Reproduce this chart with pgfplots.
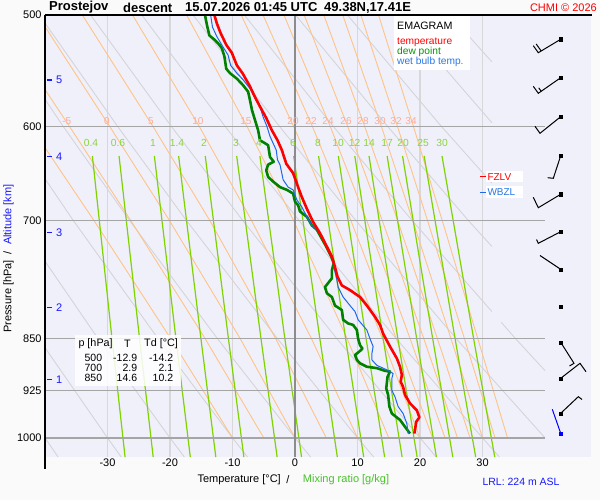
\documentclass[border=0pt]{standalone}
\usepackage{pgfplots}
\pgfplotsset{compat=1.18}
\usepackage{fontspec}
\setmainfont{Liberation Sans}
\newcommand{\fs}[1]{\fontsize{#1}{#1}\selectfont}
\definecolor{bgplot}{RGB}{240,240,251}
\definecolor{page}{RGB}{250,250,250}
\definecolor{tcol}{RGB}{255,0,0}
\definecolor{tdcol}{RGB}{0,130,0}
\definecolor{twcol}{RGB}{30,105,235}
\definecolor{moist}{RGB}{255,195,135}
\definecolor{moistlab}{RGB}{255,170,150}
\definecolor{mixr}{RGB}{128,210,0}
\definecolor{mixlab}{RGB}{140,212,60}
\definecolor{dry}{RGB}{212,212,216}
\definecolor{isob}{RGB}{165,165,165}
\definecolor{isot}{RGB}{216,216,218}
\definecolor{zerot}{RGB}{140,140,140}
\definecolor{altblue}{RGB}{25,25,255}
\definecolor{legblue}{RGB}{40,120,230}
\definecolor{leggreen}{RGB}{0,150,0}
\definecolor{axgreen}{RGB}{70,195,40}
\begin{document}
\begin{tikzpicture}[x=1pt,y=1pt,t/.style={inner sep=0pt}]
\fill[page] (-45,-43) rectangle (555,457);
\useasboundingbox (-45,-43) rectangle (555,457);
\begin{axis}[
  at={(0,0)}, anchor=south west,
  scale only axis, width=546pt, height=442pt,
  xmin=-40, xmax=47.36, ymin=500, ymax=1032,
  ymode=log, y dir=reverse,
  axis background/.style={fill=bgplot},
  axis line style={draw=none},
  major tick length=0pt, minor tick num=0,
  xtick={-30,-20,-10,0,10,20,30},
  xticklabels={{-30},{-20},{-10},{0},{10},{20},{30}},
  ytick={500,600,700,850,925,1000},
  yticklabels={500,600,700,850,925,1000},
  xticklabel style={font=\fs{11}, anchor=north, inner sep=0pt, yshift=-1.8pt},
  yticklabel style={font=\fs{11}, anchor=east, inner sep=0pt, xshift=-3.3pt},
  every axis plot/.append style={line join=round},
]
% isotherms
\addplot[isot, line width=1.2] coordinates {(-30,500)(-30,1032)};
\addplot[isot, line width=1.2] coordinates {(-20,500)(-20,1032)};
\addplot[isot, line width=1.2] coordinates {(-10,500)(-10,1032)};
\addplot[isot, line width=1.2] coordinates {(10,500)(10,1032)};
\addplot[isot, line width=1.2] coordinates {(20,500)(20,1032)};
\addplot[isot, line width=1.2] coordinates {(30,500)(30,1032)};
% dry adiabats
\addplot[dry, line width=0.9] coordinates {(-50.6,850)(-40,1000)(-37.9,1032)};
\addplot[dry, line width=0.9] coordinates {(-53.6,700)(-41.0,850)(-30,1000)(-27.8,1032)};
\addplot[dry, line width=0.9] coordinates {(-54.4,600)(-44.5,700)(-31.5,850)(-20,1000)(-17.7,1032)};
\addplot[dry, line width=0.9] coordinates {(-57.3,500)(-45.7,600)(-35.5,700)(-21.9,850)(-10,1000)(-7.6,1032)};
\addplot[dry, line width=0.9] coordinates {(-49.1,500)(-37.1,600)(-26.5,700)(-12.4,850)(0,1000)(2.5,1032)};
\addplot[dry, line width=0.9] coordinates {(-40.9,500)(-28.4,600)(-17.4,700)(-2.8,850)(10,1000)(12.6,1032)};
\addplot[dry, line width=0.9] coordinates {(-32.7,500)(-19.8,600)(-8.4,700)(6.7,850)(20,1000)(22.6,1032)};
\addplot[dry, line width=0.9] coordinates {(-24.5,500)(-11.2,600)(0.6,700)(16.2,850)(30,1000)(32.7,1032)};
\addplot[dry, line width=0.9] coordinates {(-16.3,500)(-2.5,600)(9.7,700)(25.8,850)(40,1000)};
\addplot[dry, line width=0.9] coordinates {(-8.1,500)(6.1,600)(18.7,700)(31.5,813)};
\addplot[dry, line width=0.9] coordinates {(33,827.4)(35.3,850)(40,895.7)};
\addplot[dry, line width=0.9] coordinates {(0.1,500)(14.8,600)(27.7,700)(31.5,730.7)};
\addplot[dry, line width=0.9] coordinates {(8.4,500)(23.4,600)(31.5,658.6)};
\addplot[dry, line width=0.9] coordinates {(16.6,500)(31.5,596.5)};
\addplot[dry, line width=0.9] coordinates {(24.8,500)(31.5,539.9)};
% moist adiabats
\addplot[moist, line width=0.9] coordinates {(-10,1000)(-19.87,850)(-32.2,700)(-42.3,600)};
\addplot[moist, line width=0.9] coordinates {(-5,1000)(-14.37,850)(-26.3,700)(-36.1,600)(-47.9,500)};
\addplot[moist, line width=0.9] coordinates {(0,1000)(-8.76,850)(-20.11,700)(-29.67,600)(-41.2,500)};
\addplot[moist, line width=0.9] coordinates {(5,1000)(-3.08,850)(-13.66,700)(-22.74,600)(-34.02,500)};
\addplot[moist, line width=0.9] coordinates {(10,1000)(2.64,850)(-6.97,700)(-15.33,600)(-25.99,500)};
\addplot[moist, line width=0.9] coordinates {(15,1000)(8.34,850)(-0.25,700)(-7.69,600)(-17.34,500)};
\addplot[moist, line width=0.9] coordinates {(20,1000)(13.99,850)(6.33,700)(-0.23,600)(-8.6,500)};
\addplot[moist, line width=0.9] coordinates {(22,1000)(16.21,850)(8.93,700)(2.77,600)(-5.11,500)};
\addplot[moist, line width=0.9] coordinates {(24,1000)(18.42,850)(11.46,700)(5.63,600)(-1.76,500)};
\addplot[moist, line width=0.9] coordinates {(26,1000)(20.61,850)(13.95,700)(8.42,600)(1.48,500)};
\addplot[moist, line width=0.9] coordinates {(28,1000)(22.79,850)(16.4,700)(11.14,600)(4.61,500)};
\addplot[moist, line width=0.9] coordinates {(30,1000)(24.96,850)(18.82,700)(13.81,600)(7.64,500)};
\addplot[moist, line width=0.9] coordinates {(32,1000)(27.11,850)(21.19,700)(16.39,600)(10.54,500)};
\addplot[moist, line width=0.9] coordinates {(34,1000)(29.25,850)(23.54,700)(18.94,600)(13.37,500)};
% mixing ratio lines
\addplot[mixr, line width=1.2] coordinates {(-32.42,630)(-29.28,850)(-27.19,1032)};
\addplot[mixr, line width=1.2] coordinates {(-28.15,630)(-24.87,850)(-22.69,1032)};
\addplot[mixr, line width=1.2] coordinates {(-22.5,630)(-19.05,850)(-16.75,1032)};
\addplot[mixr, line width=1.2] coordinates {(-18.62,630)(-15.05,850)(-12.67,1032)};
\addplot[mixr, line width=1.2] coordinates {(-14.36,630)(-10.65,850)(-8.18,1032)};
\addplot[mixr, line width=1.2] coordinates {(-9.33,630)(-5.44,850)(-2.86,1032)};
\addplot[mixr, line width=1.2] coordinates {(-5.62,630)(-1.62,850)(1.05,1032)};
\addplot[mixr, line width=1.2] coordinates {(-0.21,630)(3.98,850)(6.77,1032)};
\addplot[mixr, line width=1.2] coordinates {(3.77,630)(8.10,850)(10.99,1032)};
\addplot[mixr, line width=1.2] coordinates {(6.93,630)(11.38,850)(14.34,1032)};
\addplot[mixr, line width=1.2] coordinates {(9.57,630)(14.11,850)(17.14,1032)};
\addplot[mixr, line width=1.2] coordinates {(11.84,630)(16.46,850)(19.54,1032)};
\addplot[mixr, line width=1.2] coordinates {(14.74,630)(19.47,850)(22.63,1032)};
\addplot[mixr, line width=1.2] coordinates {(17.21,630)(22.03,850)(25.25,1032)};
\addplot[mixr, line width=1.2] coordinates {(20.66,630)(25.61,850)(28.91,1032)};
\addplot[mixr, line width=1.2] coordinates {(23.52,630)(28.58,850)(31.96,1032)};
% isobars
\addplot[isob, line width=1.3] coordinates {(-40,600)(40,600)};
\addplot[isob, line width=1.3] coordinates {(-40,700)(40,700)};
\addplot[isob, line width=1.3] coordinates {(-40,850)(40,850)};
\addplot[isob, line width=1.3] coordinates {(-40,925)(40,925)};
\addplot[isob, line width=1.3] coordinates {(-40,1000)(40,1000)};
\addplot[zerot, line width=1.3] coordinates {(0,500)(0,1032)};
% dew point
\addplot[tdcol, line width=2.6] coordinates {(-14.4,500)(-14.1,508)(-13.7,517)(-12.8,521)(-12.1,525)(-11.7,528)(-11.3,535)(-11.0,546)(-10.4,550)(-9.3,555)(-8.3,561)(-7.5,567)(-7.2,575)(-6.9,584)(-6.4,594)(-5.9,604)(-5.6,614)(-4.8,617)(-4.3,619)(-4.1,627)(-4.0,631)(-3.4,636)(-4.3,639)(-4.6,645)(-4.3,652)(-3.5,657)(-2.4,663)(-1.3,666)(-0.3,670)(0.0,679)(0.5,683)(0.8,690)(1.9,696)(2.7,706)(3.5,711)(3.8,715)(5.0,731)(5.8,743)(6.2,751)(5.9,760)(5.9,770)(4.8,781)(5.1,789)(5.9,794)(6.4,805)(7.5,811)(7.7,824)(8.5,829)(9.3,831)(9.9,838)(10.1,850)(10.4,859)(10.8,864)(10.3,868)(9.6,873)(9.9,880)(10.4,885)(11.5,890)(13.1,892)(14.4,896)(15.2,897)(14.8,905)(14.6,922)(14.9,932)(15.1,950)(15.5,961)(16.8,971)(17.6,982)(18.4,993)};
% wet bulb
\addplot[twcol, line width=1] coordinates {(-13.5,500)(-13.2,510)(-12.5,518)(-11.5,527)(-10.7,534)(-10.3,543)(-9.3,550)(-8.3,556)(-7.2,564)(-6.4,573)(-5.6,581)(-5.1,591)(-4.5,600)(-4.0,610)(-3.5,617)(-3.0,624)(-2.8,634)(-2.4,639)(-1.9,655)(-1.1,663)(-0.3,666)(0.3,677)(1.1,685)(1.9,696)(2.7,706)(3.5,711)(4.0,715)(5.1,731)(5.9,743)(6.2,756)(6.4,762)(6.7,772)(6.9,781)(7.7,794)(8.8,805)(9.6,813)(10.1,824)(11.5,838)(12.0,850)(12.5,861)(12.3,871)(12.3,880)(13.1,888)(14.1,892)(15.2,897)(15.7,900)(15.5,907)(15.5,925)(16.0,935)(16.5,950)(17.3,961)(17.9,977)(18.1,993)};
% temperature
\addplot[tcol, line width=2.6] coordinates {(-12.9,500)(-12.5,507)(-11.9,515)(-11.0,525)(-10.1,532)(-9.3,543)(-8.4,550)(-7.3,561)(-6.4,572)(-5.6,581)(-4.6,592)(-3.7,604)(-2.8,614)(-2.1,624)(-1.4,638)(-0.3,648)(0.5,663)(1.1,674)(1.9,687)(2.9,702)(4.0,715)(5.1,731)(5.9,743)(6.4,756)(6.8,768)(7.5,779)(8.8,785)(10.4,794)(11.5,805)(12.8,820)(13.6,831)(14.1,843)(15.2,861)(16.3,878)(16.8,890)(17.1,902)(16.9,912)(17.3,920)(17.6,932)(18.4,945)(19.5,956)(19.9,967)(19.4,974)(19.1,993)};
\end{axis}
% ---------- overlay in pixel coordinates ----------
\begin{axis}[
  at={(-45,43)}, anchor=south west,
  scale only axis, width=600pt, height=500pt,
  xmin=0, xmax=600, ymin=0, ymax=500, y dir=reverse,
  hide axis, clip=false,
]
% axis spines
\draw[black, line width=1.3] (axis cs:45,15)--(axis cs:45,469);
\draw[black, line width=1.3] (axis cs:45,15)--(axis cs:592,15);
% moist adiabat labels
\foreach \xx/\lab in {66.7/-5,107/0,151/5,198/10,246/15,293/20,311/22,328/24,346/26,363/28,380/30,396/32,411/34}{
  \edef\tmp{\noexpand\node[t,text=moistlab,font=\noexpand\fs{10}] at (axis cs:\xx,121) {\lab};}\tmp
}
% mixing ratio labels
\foreach \xx/\lab in {91/0.4,118/0.6,153/1,177/1.4,204/2,236/3,259/4,293/6,318/8,338/10,354.5/12,369/14,387/17,403/20,423/25,442/30}{
  \edef\tmp{\noexpand\node[t,text=mixlab,font=\noexpand\fs{10.3}] at (axis cs:\xx,143) {\lab};}\tmp
}
% altitude labels
\foreach \yy/\lab in {80/5,156.7/4,232.3/3,307.3/2,379.3/1}{
  \edef\tmp{\noexpand\draw[altblue,line width=1.3] (axis cs:47.3,\yy)--(axis cs:52,\yy);
  \noexpand\node[t,anchor=west,text=altblue,font=\noexpand\fs{11}] at (axis cs:56,\yy) {\lab};}\tmp
}
% title
\node[t,anchor=west,font=\bfseries\fs{13}] at (axis cs:49,7.5) {Prostejov};
\node[t,anchor=west,font=\bfseries\fs{13}] at (axis cs:123,7.5) {descent};
\node[t,anchor=west,font=\bfseries\fs{13}] at (axis cs:185,7.5) {15.07.2026 01:45 UTC};
\node[t,anchor=west,font=\bfseries\fs{13}] at (axis cs:324,7.5) {49.38N,17.41E};
\node[t,anchor=east,text=red,font=\fs{11}] at (axis cs:597,7.5) {CHMI © 2026};
% legend
\fill[white] (axis cs:394,16) rectangle (axis cs:470,70);
\node[t,anchor=west,font=\fs{10.7}] at (axis cs:397,25.7) {EMAGRAM};
\node[t,anchor=west,text=red,font=\fs{10.2}] at (axis cs:397,42) {temperature};
\node[t,anchor=west,text=leggreen,font=\fs{10.2}] at (axis cs:397,52) {dew point};
\node[t,anchor=west,text=legblue,font=\fs{10.2}] at (axis cs:397,62) {wet bulb temp.};
% FZLV / WBZL
\fill[white] (axis cs:486,171) rectangle (axis cs:523,182.5);
\draw[red,line width=1] (axis cs:480,176.7)--(axis cs:486,176.7);
\node[t,anchor=west,text=red,font=\fs{10}] at (axis cs:487.3,176.7) {FZLV};
\fill[white] (axis cs:486,186.5) rectangle (axis cs:523,198);
\draw[twcol,line width=1] (axis cs:480,192.3)--(axis cs:486,192.3);
\node[t,anchor=west,text=legblue,font=\fs{10}] at (axis cs:487.3,192.3) {WBZL};
% table
\fill[white, fill opacity=0.85] (axis cs:75,335) rectangle (axis cs:181,386);
\node[t,anchor=west,font=\fs{10.8}] at (axis cs:78.3,343.5) {p [hPa]};
\node[t,font=\fs{10.8}] at (axis cs:127.5,343.5) {T};
\node[t,anchor=west,font=\fs{10.8}] at (axis cs:144,343.5) {Td [°C]};
\node[t,anchor=east,font=\fs{10.5}] at (axis cs:102.3,358.3) {500};
\node[t,anchor=east,font=\fs{10.5}] at (axis cs:137.3,358.3) {-12.9};
\node[t,anchor=east,font=\fs{10.5}] at (axis cs:173.3,358.3) {-14.2};
\node[t,anchor=east,font=\fs{10.5}] at (axis cs:102.3,368.3) {700};
\node[t,anchor=east,font=\fs{10.5}] at (axis cs:137.3,368.3) {2.9};
\node[t,anchor=east,font=\fs{10.5}] at (axis cs:173.3,368.3) {2.1};
\node[t,anchor=east,font=\fs{10.5}] at (axis cs:102.3,378.3) {850};
\node[t,anchor=east,font=\fs{10.5}] at (axis cs:137.3,378.3) {14.6};
\node[t,anchor=east,font=\fs{10.5}] at (axis cs:173.3,378.3) {10.2};
% axis titles
\node[t,anchor=west,font=\fs{11}] at (axis cs:197.3,479.3) {Temperature [°C]};
\node[t,font=\fs{11}] at (axis cs:288,479.3) {/};
\node[t,anchor=west,text=axgreen,font=\fs{11}] at (axis cs:302.7,479.3) {Mixing ratio [g/kg]};
\node[t,anchor=west,rotate=90,font=\fs{11}] at (axis cs:8.5,333) {Pressure [hPa]\hspace{6pt}/\hspace{6pt}\textcolor{altblue}{Altitude [km]}};
\node[t,anchor=west,text=altblue,font=\fs{10.5}] at (axis cs:482.3,481.7) {LRL: 224 m ASL};
% wind barbs
\addplot[black, line width=1] coordinates {(533.3,45.7)(538.3,52.7)(560.7,39.3)};
\addplot[black, line width=1] coordinates {(536.2,44)(541.2,51)};
\addplot[black, line width=1] coordinates {(533.3,86.3)(538.3,93.3)(560.7,77.7)};
\addplot[black, line width=1] coordinates {(538.7,87.8)(541.2,91.3)};
\addplot[black, line width=1] coordinates {(535,126.3)(540,133.3)(560.7,116.7)};
\addplot[black, line width=1] coordinates {(547.7,177.7)(553.3,178.3)(560.7,155.7)};
\addplot[black, line width=1] coordinates {(533.3,197.3)(538.3,207.7)(560.7,194.3)};
\addplot[black, line width=1] coordinates {(536.5,239.5)(538.3,243.3)(560.7,231.7)};
\addplot[black, line width=1] coordinates {(540,255.5)(560.7,269.3)};
\addplot[black, line width=1] coordinates {(569.5,366)(574,363.3)(560.7,342.3)};
\addplot[black, line width=1] coordinates {(586,371.7)(580,363.3)(560.7,378.3)};
\addplot[black, line width=1] coordinates {(582,399.5)(578.3,396.7)(560.7,413.3)};
\addplot[blue, line width=1] coordinates {(552.3,409.3)(560.7,433.3)};
\addplot[only marks, mark=square*, mark size=1.6, black] coordinates {(560.7,39.3)(560.7,77.7)(560.7,116.7)(560.7,155.7)(560.7,194.3)(560.7,231.7)(560.7,269.3)(560.7,306.7)(560.7,342.3)(560.7,378.3)(560.7,413.3)};
\addplot[only marks, mark=square*, mark size=1.6, blue] coordinates {(560.7,433.3)};
\end{axis}
\end{tikzpicture}
\end{document}
